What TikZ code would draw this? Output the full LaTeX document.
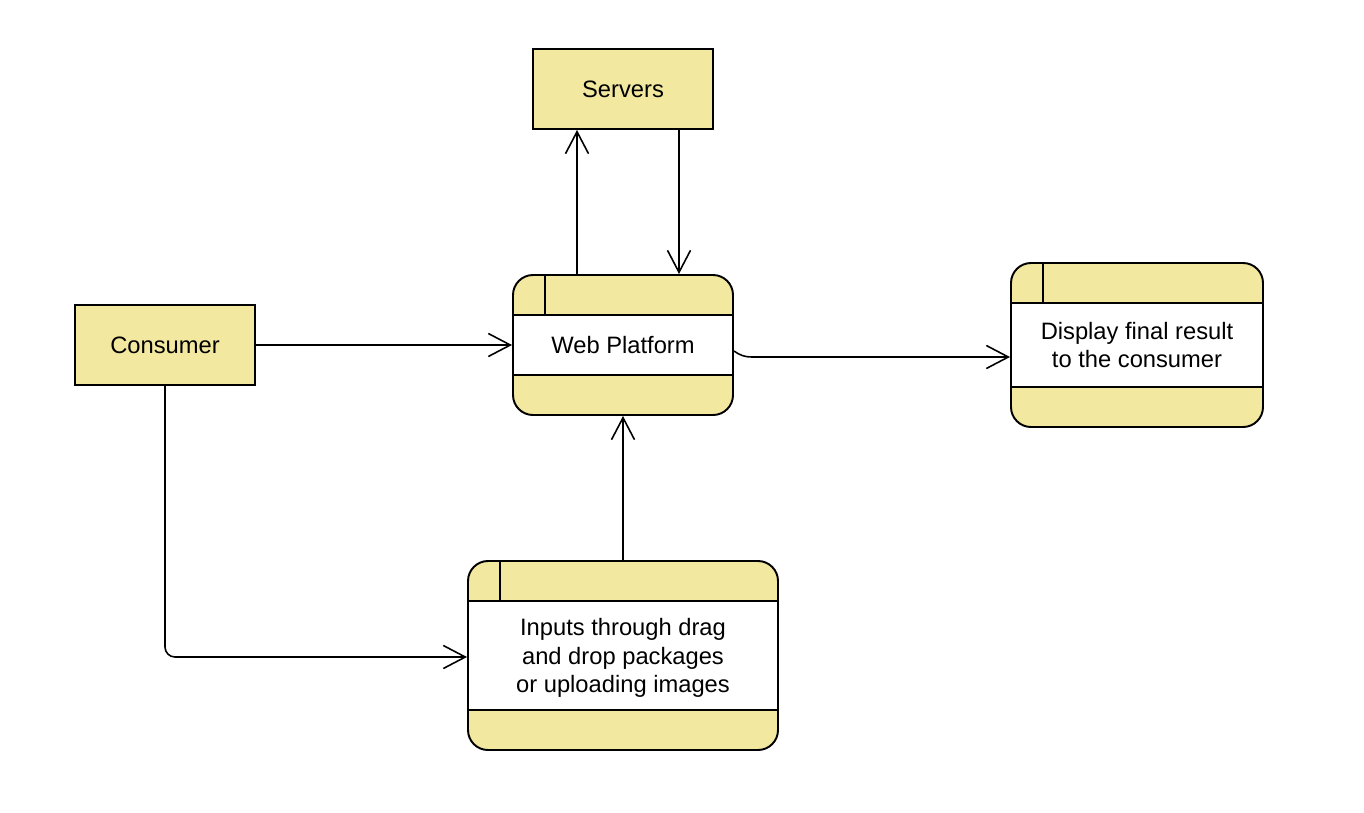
\documentclass[tikz,border=0pt]{standalone}
\usepackage{fontspec}
\setmainfont{Liberation Sans}
\usepackage{xcolor}
\usetikzlibrary{arrows.meta}
\definecolor{boxyellow}{HTML}{F3E8A0}

\tikzset{
  entity/.style={draw, line width=1.1pt, fill=boxyellow, minimum width=3.6cm,
    minimum height=1.6cm, inner sep=0pt, font=\fontsize{13.5}{16}\selectfont},
  proc/.style={draw, line width=1.1pt, fill=boxyellow, rounded corners=0.4cm,
    inner sep=0pt, align=center, font=\fontsize{13.5}{16}\selectfont,
    path picture={
      \fill[white, sharp corners] ([yshift=-0.8cm]path picture bounding box.north west)
        rectangle ([yshift=0.8cm]path picture bounding box.south east);
      \draw[line width=1.1pt, sharp corners] ([yshift=-0.8cm]path picture bounding box.north west)
        -- ([yshift=-0.8cm]path picture bounding box.north east);
      \draw[line width=1.1pt, sharp corners] ([yshift=0.8cm]path picture bounding box.south west)
        -- ([yshift=0.8cm]path picture bounding box.south east);
      \draw[line width=1.1pt, sharp corners] ([xshift=0.64cm]path picture bounding box.north west)
        -- ([xshift=0.64cm,yshift=-0.8cm]path picture bounding box.north west);
    }},
  flow/.style={line width=0.9pt, -{Straight Barb[length=0.44cm,width=0.46cm,line width=0.9pt]}}
}

\begin{document}
\begin{tikzpicture}
\useasboundingbox (0,0) rectangle (27.28,-16.24);
\node[entity] (servers) at (12.46,-1.78) {Servers};
\node[entity] (consumer) at (3.3,-6.9) {Consumer};
\node[proc, minimum width=4.4cm, minimum height=2.8cm] (web) at (12.46,-6.9) {Web Platform};
\node[proc, minimum width=5.04cm, minimum height=3.28cm] (display) at (22.74,-6.9)
  {Display final result\\to the consumer};
\node[proc, minimum width=6.2cm, minimum height=3.78cm, text depth=-0.06cm] (inputs) at (12.46,-13.11)
  {Inputs through drag\\and drop packages\\or uploading images};
\draw[flow] ([xshift=-0.92cm]web.north) -- ([xshift=-0.92cm]servers.south);
\draw[flow] ([xshift=1.12cm]servers.south) -- ([xshift=1.12cm]web.north);
\draw[flow] (consumer.east) -- (web.west);
\draw[flow] ([yshift=-0.12cm]web.east) to[out=-35,in=180] ++(0.36,-0.12)
  -- ([yshift=-0.24cm]display.west);
\draw[flow, rounded corners=0.2cm] (consumer.south) |- ([yshift=-0.03cm]inputs.west);
\draw[flow] (inputs.north) -- (web.south);
\end{tikzpicture}
\end{document}
